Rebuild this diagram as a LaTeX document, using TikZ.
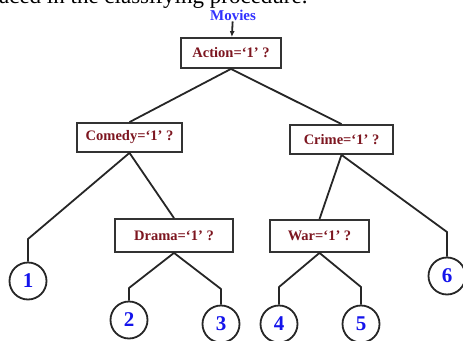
\documentclass[tikz,border=0pt]{standalone}
\usepackage{fontspec}
\setmainfont{Liberation Serif}
\usetikzlibrary{arrows.meta}
\begin{document}
\begin{tikzpicture}[x=1pt,y=-1pt,
  box/.style={draw=black!80,line width=1.8pt,fill=white,minimum height=30pt,inner xsep=4pt,
     font=\bfseries\fontsize{14.5}{15}\selectfont,text={rgb,255:red,125;green,22;blue,32}},
  leaf/.style={draw=black!85,line width=1.8pt,circle,minimum size=37pt,inner sep=0pt,
     font=\bfseries\fontsize{21}{21}\selectfont,text={rgb,255:red,20;green,20;blue,235}},
  edge/.style={draw=black!85,line width=1.8pt,line join=round}]
\useasboundingbox (0,0) rectangle (463,340);
\begin{scope}
\clip (0,0) rectangle (463,340);
\node[anchor=base west,inner sep=0pt,font=\fontsize{23}{23}\selectfont] (top) at (-19,4) {placed in the classifying procedure.};
\end{scope}
\node[inner sep=1pt,font=\bfseries\fontsize{15}{15}\selectfont,text={rgb,255:red,50;green,50;blue,255}] (mov) at (233,15) {Movies};
\node[box,minimum width=100pt] (act) at (231,53) {Action=`1' ?};
\node[box,minimum width=105pt,minimum height=29pt] (com) at (129.5,137.5) {Comedy=`1' ?};
\node[box,minimum width=103pt,minimum height=29pt] (cri) at (341.5,139.5) {Crime=`1' ?};
\node[box,minimum width=118pt,minimum height=33pt] (dra) at (174,235.5) {Drama=`1' ?};
\node[box,minimum width=99pt,minimum height=32pt] (war) at (319.5,236) {War=`1' ?};
\node[leaf] (n1) at (28,281) {1};
\node[leaf] (n2) at (129,320) {2};
\node[leaf] (n3) at (221,324) {3};
\node[leaf] (n4) at (279,324) {4};
\node[leaf] (n5) at (361,324) {5};
\node[leaf] (n6) at (447,276) {6};
\draw[edge,-{Latex[length=6pt,width=5pt]}] (mov) -- (act);
\draw[edge] (com.north) -- (act.south) -- (cri.north);
\draw[edge] (n1.north) -- (28,239) -- (com.south) -- (dra.north);
\draw[edge] (cri.south) -- (war.north);
\draw[edge] (cri.south) -- (447,232) -- (n6.north);
\draw[edge] (n2.north) -- (129,288) -- (dra.south) -- (221,289) -- (n3.north);
\draw[edge] (n4.north) -- (279,287) -- (war.south) -- (361,287) -- (n5.north);
\end{tikzpicture}
\end{document}
